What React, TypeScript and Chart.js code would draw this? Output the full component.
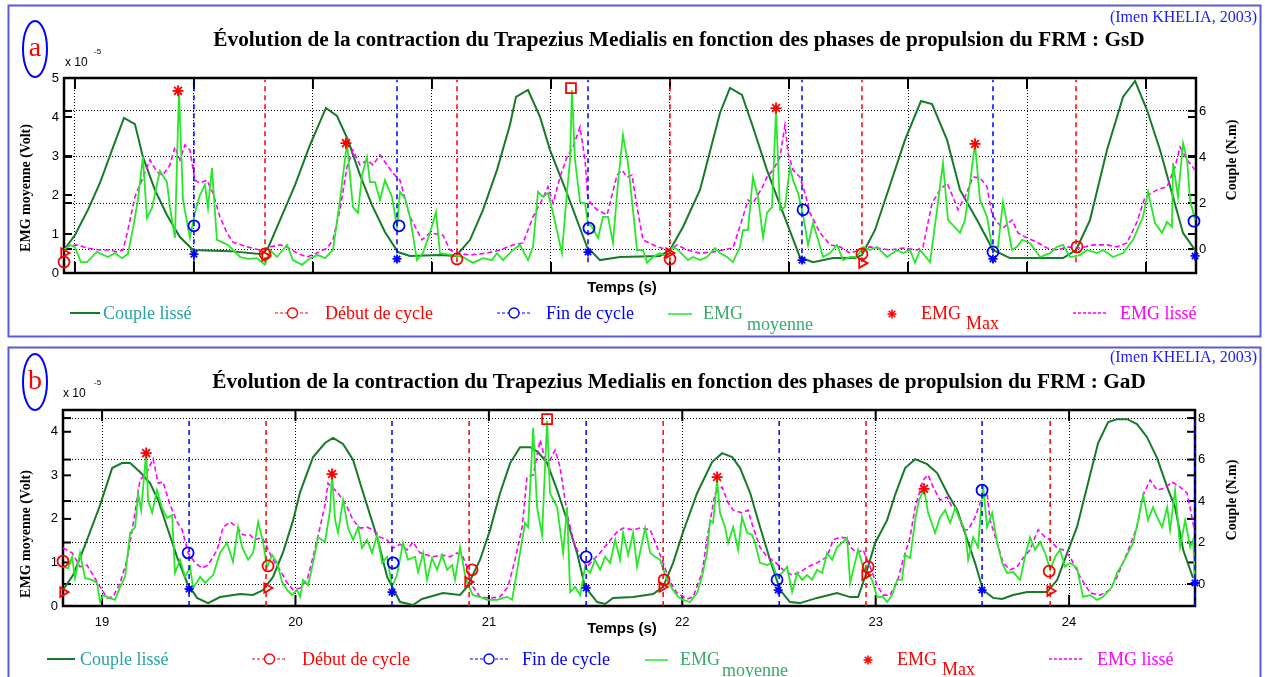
import React, { useEffect, useRef } from "react";
import { Chart, registerables } from "chart.js";
Chart.register(...registerables);

// ================= Panel a : GsD =================
const aXTicks = [0, 1, 2, 3, 4, 5, 6, 7, 8, 9];
const aYTicks = [0, 1, 2, 3, 4, 5];
const aY2Ticks = [0, 2, 4, 6];

const aCoupleT = [-0.092,0,0.109,0.210,0.311,0.412,0.504,0.571,0.672,0.773,0.882,0.992,1.303,1.571,1.622,1.723,1.849,1.975,2.109,2.202,2.294,2.395,2.496,2.605,2.714,2.815,3.067,3.202,3.319,3.429,3.546,3.655,3.706,3.807,3.908,3.992,4.134,4.303,4.412,4.580,4.916,5.000,5.109,5.252,5.420,5.504,5.605,5.697,5.815,5.950,6.092,6.202,6.370,6.555,6.613,6.723,6.849,6.975,7.109,7.202,7.328,7.437,7.580,7.714,7.857,8.303,8.412,8.529,8.672,8.807,8.908,9.008,9.118,9.311,9.412];
const aCoupleV = [-0.04,0.61,1.70,2.87,4.30,5.70,5.43,4.00,2.57,1.48,0.52,-0.04,-0.09,-0.22,0.04,1.26,2.78,4.52,6.13,5.78,4.74,3.22,1.91,0.74,-0.13,-0.30,-0.26,-0.30,0.39,1.70,3.43,5.39,6.61,6.91,5.74,4.30,2.43,0.09,-0.48,-0.35,-0.30,-0.04,0.96,2.57,5.91,7.00,6.70,5.30,3.43,1.57,-0.35,-0.57,-0.39,-0.39,-0.26,0.83,2.78,4.74,6.43,6.30,4.74,2.57,1.26,-0.04,-0.39,-0.39,-0.04,1.26,4.30,6.61,7.30,6.04,4.30,0.70,-0.04];

const aEmgT = [-0.092,-0.042,0,0.050,0.101,0.185,0.277,0.336,0.395,0.445,
0.487,0.529,0.571,0.605,0.647,0.714,0.773,0.798,0.840,0.874,
0.908,0.966,1.008,1.050,1.092,1.118,1.151,1.193,1.235,1.286,
1.328,1.387,1.454,1.529,1.597,1.639,1.697,1.782,1.832,1.908,
1.975,2.042,2.101,2.168,2.227,2.286,2.336,2.378,2.412,2.454,
2.479,2.521,2.563,2.605,2.664,2.706,2.731,2.773,2.815,2.874,
2.924,2.983,3.034,3.067,3.176,3.261,3.345,3.429,3.504,3.546,
3.597,3.681,3.739,3.807,3.849,3.891,3.933,3.975,4.017,4.092,
4.134,4.160,4.176,4.202,4.244,4.286,4.311,4.345,4.395,4.437,
4.479,4.521,4.563,4.605,4.647,4.689,4.723,4.773,4.807,4.857,
4.916,4.975,5.025,5.067,5.151,5.193,5.252,5.311,5.378,5.420,
5.479,5.529,5.588,5.613,5.655,5.697,5.739,5.782,5.815,5.857,
5.891,5.924,5.966,6.008,6.034,6.076,6.118,6.160,6.202,6.244,
6.286,6.345,6.403,6.454,6.513,6.571,6.622,6.681,6.739,6.824,
6.908,6.958,7.017,7.059,7.101,7.185,7.244,7.294,7.336,7.437,
7.479,7.521,7.563,7.605,7.664,7.706,7.756,7.798,7.832,7.874,
7.916,7.958,8.025,8.109,8.193,8.252,8.303,8.361,8.445,8.504,
8.588,8.639,8.723,8.807,8.891,8.975,9.017,9.076,9.134,9.176,
9.218,9.227,9.269,9.311,9.345,9.370,9.412];
const aEmgV = [0.59,0.72,0.67,0.28,0.28,0.54,0.41,0.51,0.38,0.49,
1.13,1.87,2.97,1.41,1.67,2.62,2.33,1.69,0.90,4.67,
1.87,0.90,1.54,2.00,2.26,1.67,2.69,0.85,0.79,0.72,
0.59,0.41,0.36,0.38,0.21,0.59,0.41,0.72,0.33,0.21,
0.38,0.46,0.38,0.59,1.87,3.33,1.69,1.54,2.51,2.97,
2.33,2.33,1.87,2.38,1.95,1.18,2.08,1.92,1.44,0.33,
0.51,1.03,1.56,0.51,0.46,0.41,0.26,0.38,0.33,0.51,
0.33,0.59,0.72,0.33,0.67,2.08,1.95,2.05,1.54,0.51,
2.05,2.90,4.69,2.90,1.82,1.79,1.28,1.18,0.90,1.44,
1.44,0.77,2.31,3.54,2.82,1.62,0.59,0.59,0.26,0.41,
0.51,0.41,0.67,0.59,0.33,0.41,0.33,0.41,0.64,0.51,
0.41,0.28,0.67,1.10,1.10,2.46,1.95,0.92,1.54,1.69,
4.18,1.62,1.69,2.72,2.38,2.05,1.49,0.72,1.28,0.85,
0.41,0.51,0.72,0.33,0.41,0.41,0.67,0.59,0.67,0.41,
0.59,0.51,0.59,0.26,0.59,0.28,1.62,2.82,1.36,1.03,
1.36,2.31,3.31,1.87,1.44,0.67,0.67,1.82,1.28,0.59,
0.67,0.85,0.77,0.41,0.51,0.67,0.72,0.41,0.46,0.59,
0.51,0.59,0.41,0.51,0.85,1.44,2.08,1.28,1.03,1.31,
1.18,2.82,1.95,3.33,2.90,1.87,1.36];

const aLisT = [-0.084,0.017,0.101,0.210,0.294,0.353,0.403,0.445,0.504,0.563,
0.630,0.689,0.739,0.798,0.840,0.882,0.924,0.966,1.008,1.050,
1.109,1.160,1.218,1.277,1.328,1.445,1.555,1.639,1.723,1.782,
1.866,1.950,2.034,2.118,2.168,2.227,2.286,2.336,2.395,2.454,
2.504,2.563,2.622,2.672,2.731,2.815,2.916,2.983,3.092,3.151,
3.210,3.319,3.462,3.571,3.681,3.765,3.849,3.933,3.975,4.017,
4.076,4.134,4.185,4.244,4.286,4.311,4.387,4.471,4.555,4.597,
4.639,4.681,4.723,4.773,4.891,5.000,5.059,5.143,5.252,5.361,
5.529,5.605,5.655,5.697,5.773,5.815,5.866,5.924,5.966,5.992,
6.034,6.092,6.134,6.176,6.261,6.345,6.429,6.513,6.681,6.849,
6.958,7.076,7.126,7.202,7.269,7.328,7.378,7.420,7.479,7.546,
7.605,7.664,7.706,7.756,7.798,7.874,7.924,8.000,8.084,8.168,
8.252,8.336,8.445,8.555,8.672,8.756,8.840,8.924,8.992,9.092,
9.176,9.244,9.286,9.345,9.412];
const aLisV = [0.67,0.72,0.64,0.59,0.59,0.54,0.59,1.10,1.95,2.38,
2.90,2.59,2.51,2.77,3.23,2.90,3.28,3.15,2.38,2.31,
2.38,2.05,1.44,1.03,0.79,0.67,0.59,0.67,0.72,0.67,
0.51,0.41,0.51,0.64,0.85,1.62,2.72,3.15,2.77,2.90,
2.77,3.03,2.77,2.56,2.38,1.44,0.85,1.03,0.97,0.59,
0.51,0.46,0.51,0.59,0.72,0.77,1.44,1.92,2.21,1.79,
2.46,2.97,3.23,3.74,2.90,1.87,1.62,1.49,2.51,2.64,
2.46,2.51,1.69,0.85,0.67,0.59,0.72,0.59,0.51,0.54,
0.64,1.36,1.87,1.79,2.18,2.46,2.64,2.97,3.79,3.08,
2.64,2.46,2.05,1.54,1.03,0.72,0.67,0.51,0.67,0.59,
0.64,0.59,0.67,1.79,2.13,2.31,1.95,1.62,1.95,2.46,
2.44,2.21,1.49,1.28,1.15,1.36,1.03,0.90,0.79,0.64,
0.59,0.67,0.64,0.72,0.72,0.67,0.77,1.31,1.95,2.13,
2.21,2.72,3.23,2.90,2.64];

const aDebutT = [1.597, 3.210, 5.000, 6.613, 8.412];
const aDebutCircT = [-0.092, 1.597, 3.210, 5.000, 6.613, 8.420];
const aDebutCircV = [0.28, 0.49, 0.36, 0.36, 0.49, 0.67];
const aTriT = [-0.092, 1.597, 4.992, 6.613];
const aTriC = [-0.17, -0.30, -0.17, -0.61];
const aFinT = [1.000, 2.706, 4.311, 6.109, 7.714];
const aFinCircT = [1.000, 2.723, 4.319, 6.118, 7.714, 9.403];
const aFinCircV = [1.21, 1.21, 1.15, 1.62, 0.54, 1.33];
const aFinStarT = [1.000, 2.706, 4.311, 6.109, 7.714, 9.412];
const aFinStarC = [-0.22, -0.43, -0.13, -0.48, -0.43, -0.30];
const aMaxT = [0.866, 2.277, 5.891, 7.563];
const aMaxV = [4.67, 3.33, 4.23, 3.31];
const aPeakT = [4.168];
const aPeakV = [4.74];

// ================= Panel b : GaD =================
const bXTicks = [19, 20, 21, 22, 23, 24];
const bYTicks = [0, 1, 2, 3, 4];
const bY2Ticks = [0, 2, 4, 6, 8];

const bCoupleT = [18.798,18.850,18.912,18.990,19.052,19.103,19.145,19.196,19.248,19.290,
19.336,19.388,19.440,19.491,19.548,19.610,19.714,19.781,19.832,19.884,
19.936,19.988,20.024,20.091,20.153,20.194,20.246,20.298,20.350,20.422,
20.474,20.541,20.608,20.654,20.763,20.851,20.887,20.954,21.006,21.058,
21.110,21.161,21.213,21.254,21.301,21.353,21.404,21.456,21.497,21.560,
21.601,21.642,21.746,21.849,21.901,21.952,22.004,22.077,22.154,22.206,
22.258,22.299,22.351,22.402,22.454,22.506,22.557,22.609,22.697,22.800,
22.868,22.909,22.945,22.997,23.059,23.100,23.152,23.204,23.266,23.318,
23.370,23.421,23.462,23.514,23.555,23.607,23.654,23.710,23.783,23.886,
23.938,23.990,24.041,24.098,24.150,24.202,24.248,24.300,24.351,24.403,
24.455,24.507,24.548,24.590,24.641];
const bCoupleV = [-0.29,0.43,1.88,3.81,5.59,5.83,5.83,5.40,4.87,4.05,
2.75,1.30,0.05,-0.67,-0.92,-0.63,-0.48,-0.53,-0.29,0.34,
1.54,3.08,4.43,6.12,6.80,7.04,6.75,5.98,4.39,2.26,
0.34,-0.87,-1.01,-0.72,-0.43,-0.53,-0.14,1.16,2.60,4.39,
5.83,6.60,6.60,6.36,5.83,4.53,3.08,1.49,-0.14,-0.87,
-0.96,-0.67,-0.63,-0.48,-0.14,1.01,2.51,4.39,5.88,6.31,
6.12,5.59,4.39,2.75,1.16,-0.29,-0.87,-0.92,-0.67,-0.43,
-0.63,-0.63,0.34,1.98,3.08,4.29,5.59,6.02,5.78,5.35,
4.39,3.57,2.46,1.01,-0.29,-0.67,-0.72,-0.53,-0.39,-0.39,
0.19,1.49,2.75,4.87,6.80,7.81,7.95,7.95,7.71,7.08,
6.07,4.67,3.71,1.64,0.29];

const bEmgT = [18.798,18.824,18.845,18.860,18.886,18.912,18.948,18.974,18.990,19.005,
19.041,19.067,19.093,19.119,19.145,19.171,19.186,19.202,19.228,19.238,
19.259,19.284,19.310,19.336,19.362,19.377,19.403,19.429,19.455,19.471,
19.507,19.533,19.574,19.610,19.646,19.677,19.703,19.724,19.755,19.781,
19.807,19.832,19.853,19.879,19.905,19.931,19.957,19.982,20.008,20.024,
20.039,20.065,20.091,20.117,20.153,20.179,20.189,20.205,20.220,20.246,
20.272,20.298,20.324,20.344,20.370,20.396,20.422,20.448,20.474,20.499,
20.525,20.556,20.582,20.618,20.634,20.660,20.680,20.706,20.732,20.758,
20.784,20.810,20.825,20.851,20.877,20.892,20.918,20.954,20.991,21.042,
21.094,21.120,21.161,21.187,21.203,21.229,21.249,21.275,21.301,21.316,
21.353,21.384,21.404,21.420,21.446,21.472,21.497,21.523,21.549,21.575,
21.601,21.627,21.653,21.678,21.694,21.720,21.746,21.766,21.792,21.808,
21.834,21.859,21.885,21.921,21.952,21.978,22.004,22.040,22.077,22.102,
22.128,22.144,22.159,22.180,22.195,22.221,22.237,22.263,22.289,22.309,
22.335,22.361,22.376,22.402,22.438,22.464,22.490,22.516,22.542,22.568,
22.594,22.619,22.645,22.671,22.697,22.723,22.749,22.775,22.800,22.826,
22.852,22.868,22.909,22.935,22.981,23.007,23.038,23.059,23.085,23.111,
23.136,23.152,23.178,23.204,23.224,23.250,23.271,23.307,23.333,23.359,
23.385,23.411,23.436,23.462,23.478,23.504,23.529,23.555,23.576,23.602,
23.628,23.654,23.679,23.710,23.747,23.772,23.798,23.824,23.850,23.876,
23.902,23.928,23.953,23.979,24.005,24.041,24.072,24.109,24.145,24.176,
24.222,24.248,24.279,24.331,24.357,24.383,24.408,24.434,24.455,24.481,
24.507,24.522,24.548,24.574,24.600,24.626,24.641,24.651];
const bEmgV = [0.90,0.87,1.13,0.64,1.22,0.64,0.60,0.53,0.09,0.25,
0.18,0.14,0.44,0.67,1.68,1.81,2.59,2.20,3.51,2.43,
2.14,2.66,2.25,2.02,2.09,0.76,1.06,0.67,0.90,0.41,
0.67,0.53,0.71,1.22,1.45,1.01,1.81,1.35,1.06,1.22,
1.93,1.47,0.90,1.17,0.99,0.55,0.37,0.25,0.37,0.21,
0.60,0.48,0.99,1.58,1.47,2.20,3.03,1.97,1.68,2.43,
1.79,1.52,1.81,1.33,1.52,1.22,1.63,0.99,1.13,0.44,
0.71,1.45,1.06,1.13,0.78,1.22,0.60,1.10,0.83,1.17,
0.83,0.94,0.60,1.35,0.71,0.48,0.25,0.21,0.14,0.14,
0.21,0.14,1.22,1.91,1.81,4.09,2.27,1.63,4.25,2.59,
2.27,1.22,2.27,0.32,0.44,0.25,0.90,0.76,1.06,0.83,
1.13,0.99,1.52,1.06,1.68,1.17,1.68,0.90,1.45,1.79,
1.22,1.13,1.06,0.60,0.37,0.21,0.14,0.09,0.30,0.67,
1.22,1.97,1.91,2.89,2.14,1.81,1.45,1.81,1.29,2.04,
1.68,1.63,1.45,0.99,0.94,0.99,0.67,0.76,0.90,0.32,
0.76,0.60,0.71,0.60,0.83,0.76,1.22,1.06,1.35,1.45,
1.56,0.53,1.29,0.90,0.60,0.21,0.21,0.09,0.25,0.60,
0.60,1.17,1.10,1.97,2.43,2.69,2.14,1.68,2.04,2.20,
1.91,2.25,1.97,1.75,1.06,1.58,1.35,2.78,1.81,2.14,
1.45,0.99,0.76,0.78,0.60,1.13,1.58,1.29,1.47,1.22,
0.83,1.13,1.29,0.90,0.99,0.87,0.21,0.25,0.14,0.21,
0.44,0.76,0.99,1.45,1.97,2.55,1.97,2.27,2.04,1.81,
2.27,1.75,2.66,1.35,1.97,1.35,1.52,0.60];

const bLisT = [18.798,18.845,18.886,18.922,18.953,18.990,19.026,19.057,19.093,19.129,
19.160,19.196,19.233,19.264,19.290,19.315,19.352,19.388,19.414,19.445,
19.481,19.517,19.548,19.595,19.626,19.662,19.698,19.729,19.765,19.791,
19.827,19.853,19.884,19.920,19.957,19.988,20.024,20.060,20.091,20.127,
20.153,20.168,20.194,20.220,20.246,20.267,20.298,20.334,20.370,20.401,
20.437,20.474,20.505,20.541,20.577,20.608,20.644,20.680,20.711,20.758,
20.799,20.835,20.866,20.892,20.918,20.954,21.006,21.058,21.099,21.135,
21.172,21.197,21.229,21.265,21.291,21.316,21.342,21.368,21.404,21.435,
21.472,21.508,21.539,21.575,21.616,21.663,21.694,21.746,21.782,21.834,
21.870,21.901,21.937,21.973,22.025,22.056,22.102,22.133,22.170,22.206,
22.237,22.263,22.309,22.340,22.366,22.402,22.438,22.480,22.521,22.568,
22.609,22.650,22.697,22.749,22.780,22.816,22.852,22.868,22.904,22.935,
22.971,23.007,23.038,23.074,23.111,23.142,23.178,23.204,23.245,23.271,
23.297,23.333,23.369,23.395,23.421,23.452,23.478,23.514,23.540,23.576,
23.591,23.628,23.659,23.695,23.731,23.762,23.798,23.840,23.876,23.902,
23.938,23.969,24.005,24.057,24.109,24.160,24.212,24.248,24.300,24.351,
24.383,24.419,24.455,24.496,24.532,24.574,24.610,24.651];
const bLisV = [1.33,1.22,0.90,0.94,0.71,0.44,0.18,0.21,0.53,1.06,
1.86,2.89,3.08,3.38,2.82,2.85,2.32,1.93,1.75,1.22,
0.99,0.87,0.94,1.29,1.81,1.93,1.81,1.63,1.63,1.52,
1.58,1.35,1.06,0.83,0.53,0.37,0.41,0.60,1.13,1.81,
2.32,2.82,2.71,2.59,2.43,2.27,1.97,1.79,1.81,1.75,
1.58,1.52,1.33,1.42,1.29,1.47,1.22,1.17,1.13,1.17,
1.13,1.22,1.13,0.83,0.44,0.21,0.18,0.21,0.44,1.06,
1.81,2.96,3.01,3.81,3.35,3.35,3.58,3.19,2.14,1.52,
1.13,0.90,1.06,1.22,1.45,1.70,1.79,1.75,1.79,1.75,
1.35,0.99,0.55,0.30,0.16,0.21,0.76,1.68,2.59,2.73,
2.37,2.20,2.14,2.20,1.81,1.35,1.13,1.01,0.83,0.71,
0.78,0.90,0.99,1.13,1.52,1.58,1.56,1.35,1.22,1.29,
0.90,0.48,0.25,0.25,0.55,1.06,1.58,2.27,2.89,3.01,
2.73,2.43,2.50,2.27,2.20,1.75,1.75,2.04,2.37,2.59,
1.97,1.45,0.99,0.83,0.90,1.10,1.29,1.75,1.58,1.52,
1.33,1.29,1.13,0.67,0.30,0.25,0.37,0.67,1.22,1.81,
2.55,2.89,2.66,2.71,2.85,2.73,2.59,1.68];

const bDebutT = [19.848, 20.898, 21.901, 22.950, 23.902];
const bDebutCircT = [18.798, 19.858, 20.913, 21.906, 22.961, 23.897];
const bDebutCircV = [1.03, 0.92, 0.83, 0.60, 0.90, 0.80];
const bTriT = [18.798, 19.853, 20.892, 21.896, 22.945, 23.902];
const bTriC = [-0.39, -0.19, 0.10, -0.14, 0.43, -0.34];
const bFinT = [19.450, 20.499, 21.503, 22.501, 23.550, 24.651];
const bFinCircT = [19.445, 20.505, 21.503, 22.490, 23.550];
const bFinCircV = [1.22, 0.99, 1.13, 0.60, 2.66];
const bFinStarT = [19.450, 20.499, 21.503, 22.496, 23.550, 24.651];
const bFinStarC = [-0.24, -0.39, -0.19, -0.29, -0.29, 0.05];
const bMaxT = [19.228, 20.189, 22.180, 23.250];
const bMaxV = [3.51, 3.03, 2.96, 2.69];
const bPeakT = [21.301];
const bPeakV = [4.29];

// ================= styling =================
const RED = "#ff0000";
const BLUE = "#0000ff";
const MAGENTA = "#ff00ff";
const GREEN = "#27e827";
const DKGREEN = "#167a2a";
const FRAME = "#5a5ad8";
const SERIF = '"Liberation Serif", "Times New Roman", serif';
const SANS = '"Liberation Sans", Arial, sans-serif';

const P = (xs: number[], ys: number[]) => xs.map((x, i) => ({ x, y: ys[i] }));
const V = (xs: number[], lo: number, hi: number) =>
  xs.flatMap((x) => [{ x, y: lo }, { x, y: hi }, { x, y: null as any }]);

const frameTicks = {
  id: "frameTicks",
  beforeDatasetsDraw(chart: any) {
    const { ctx, chartArea: a, scales } = chart;
    ctx.save();
    ctx.strokeStyle = "#000";
    ctx.setLineDash([]);
    ctx.lineWidth = 2;
    const seg = (x1: number, y1: number, x2: number, y2: number) => {
      ctx.beginPath();
      ctx.moveTo(x1, y1);
      ctx.lineTo(x2, y2);
      ctx.stroke();
    };
    for (const t of scales.x.ticks) {
      const x = scales.x.getPixelForValue(t.value);
      seg(x, a.bottom, x, a.bottom - 11);
      seg(x, a.top, x, a.top + 11);
    }
    for (const s of [scales.y, scales.y2]) {
      for (const t of s.ticks) {
        const y = s.getPixelForValue(t.value);
        seg(a.left, y, a.left + 8, y);
        seg(a.right, y, a.right - 8, y);
      }
    }
    ctx.lineWidth = 2.5;
    ctx.strokeRect(a.left, a.top, a.right - a.left, a.bottom - a.top);
    ctx.restore();
  },
};

function buildConfig(c: any) {
  const marker = (data: any, axis: string, style: string, color: string, r: number, rot = 0, order = 0) => ({
    data,
    yAxisID: axis,
    showLine: false,
    pointStyle: style,
    pointRadius: r,
    pointRotation: rot,
    pointBorderColor: color,
    pointBackgroundColor: "rgba(0,0,0,0)",
    pointBorderWidth: 1.8,
    borderColor: color,
    clip: false,
    order,
  });
  const datasets: any[] = [
    marker(P(c.maxT, c.maxV), "y", "star", RED, 5.5),
    marker(P(c.peakT, c.peakV), "y", "rect", RED, 7),
    marker(P(c.debCT, c.debCV), "y", "circle", RED, 5.5),
    marker(P(c.finCT, c.finCV), "y", "circle", BLUE, 5.5),
    marker(P(c.finST, c.finSC), "y2", "star", BLUE, 4.5),
    marker(P(c.triT, c.triC), "y2", "triangle", RED, 5.5, 90),
    { data: V(c.debT, c.vlo, c.vhi), yAxisID: "y2", borderColor: RED, borderWidth: 1.5, borderDash: [5, 4], pointRadius: 0, clip: false, order: 2 },
    { data: V(c.finT, c.vlo, c.vhi), yAxisID: "y2", borderColor: BLUE, borderWidth: 1.5, borderDash: [5, 4], pointRadius: 0, clip: false, order: 2 },
    { data: P(c.emgT, c.emgV), yAxisID: "y", borderColor: GREEN, borderWidth: 1.8, pointRadius: 0, clip: false, order: 3 },
    { data: P(c.lisT, c.lisV), yAxisID: "y", borderColor: MAGENTA, borderWidth: 1.6, borderDash: [5, 3], pointRadius: 0, clip: false, order: 4 },
    { data: P(c.coupleT, c.coupleV), yAxisID: "y2", borderColor: DKGREEN, borderWidth: 2, pointRadius: 0, clip: false, order: 5 },
  ];
  const tickFont = { family: SANS, size: 13 };
  return {
    type: "line",
    data: { datasets },
    plugins: [frameTicks],
    options: {
      animation: false,
      responsive: false,
      maintainAspectRatio: false,
      devicePixelRatio: 1,
      events: [],
      layout: { padding: c.padding },
      elements: { line: { tension: 0 }, point: { radius: 0 } },
      plugins: { legend: { display: false }, tooltip: { enabled: false } },
      scales: {
        x: {
          type: "linear",
          min: c.xMin,
          max: c.xMax,
          afterBuildTicks: (s: any) => { s.ticks = c.xTicks.map((v: number) => ({ value: v })); },
          afterFit: (s: any) => { s.height = 30; },
          grid: { color: "#000", lineWidth: 1, drawTicks: false },
          border: { display: false, dash: [1, 2] },
          ticks: { display: c.showX, color: "#000", font: tickFont, padding: 9, maxRotation: 0, autoSkip: false, callback: (v: any) => String(v) },
        },
        y: {
          type: "linear",
          position: "left",
          min: c.yMin,
          max: c.yMax,
          afterBuildTicks: (s: any) => { s.ticks = c.yTicks.map((v: number) => ({ value: v })); },
          afterFit: (s: any) => { s.width = 50; },
          grid: { display: false, drawTicks: false },
          border: { display: false },
          ticks: { color: "#000", font: tickFont, padding: 5, callback: (v: any) => String(v) },
        },
        y2: {
          type: "linear",
          position: "right",
          min: c.y2Min,
          max: c.y2Max,
          afterBuildTicks: (s: any) => { s.ticks = c.y2Ticks.map((v: number) => ({ value: v })); },
          afterFit: (s: any) => { s.width = 50; },
          grid: { color: "#000", lineWidth: 1, drawTicks: false },
          border: { display: false, dash: [1, 2] },
          ticks: { color: "#000", font: tickFont, padding: 3, callback: (v: any) => String(v) },
        },
      },
    },
  };
}

const cfgA = {
  top: 0, h: 340,
  padding: { left: 14, right: 19, top: 78, bottom: 37 },
  xMin: -0.092, xMax: 9.42, xTicks: aXTicks, showX: false,
  yMin: 0, yMax: 5, yTicks: aYTicks,
  y2Min: -1.04, y2Max: 7.43, y2Ticks: aY2Ticks,
  coupleT: aCoupleT, coupleV: aCoupleV, emgT: aEmgT, emgV: aEmgV, lisT: aLisT, lisV: aLisV,
  debT: aDebutT, debCT: aDebutCircT, debCV: aDebutCircV, triT: aTriT, triC: aTriC,
  finT: aFinT, finCT: aFinCircT, finCV: aFinCircV, finST: aFinStarT, finSC: aFinStarC,
  maxT: aMaxT, maxV: aMaxV, peakT: aPeakT, peakV: aPeakV,
  vlo: -0.57, vhi: 7.35,
};

const cfgB = {
  top: 340, h: 337,
  padding: { left: 13, right: 20, top: 70, bottom: 41 },
  xMin: 18.798, xMax: 24.651, xTicks: bXTicks, showX: true,
  yMin: 0, yMax: 4.5, yTicks: bYTicks,
  y2Min: -1.06, y2Max: 8.39, y2Ticks: bY2Ticks,
  coupleT: bCoupleT, coupleV: bCoupleV, emgT: bEmgT, emgV: bEmgV, lisT: bLisT, lisV: bLisV,
  debT: bDebutT, debCT: bDebutCircT, debCV: bDebutCircV, triT: bTriT, triC: bTriC,
  finT: bFinT, finCT: bFinCircT, finCV: bFinCircV, finST: bFinStarT, finSC: bFinStarC,
  maxT: bMaxT, maxV: bMaxV, peakT: bPeakT, peakV: bPeakV,
  vlo: -1.06, vhi: 7.95,
};

function PanelChart({ cfg }: { cfg: any }) {
  const ref = useRef<HTMLCanvasElement>(null);
  useEffect(() => {
    const chart = new Chart(ref.current as HTMLCanvasElement, buildConfig(cfg) as any);
    return () => chart.destroy();
  }, [cfg]);
  return (
    <canvas
      ref={ref}
      width={1265}
      height={cfg.h}
      style={{ position: "absolute", left: 0, top: cfg.top, width: 1265, height: cfg.h }}
    />
  );
}

function T(props: any) {
  const { x, y, size = 18, color = "#000", bold = false, family = SERIF, anchor = "left", rot = false, children } = props;
  let transform = anchor === "center" ? "translate(-50%,-50%)" : anchor === "right" ? "translate(-100%,-50%)" : "translateY(-50%)";
  if (rot) transform = "translate(-50%,-50%) rotate(-90deg)";
  return (
    <span
      style={{
        position: "absolute", left: x, top: y, fontSize: size, color, fontFamily: family,
        fontWeight: bold ? "bold" : "normal", lineHeight: 1, whiteSpace: "nowrap", transform,
      }}
    >
      {children}
    </span>
  );
}

function Star({ x, y, r, color }: any) {
  const d = r * 0.72;
  return (
    <g stroke={color} strokeWidth={1.6}>
      <line x1={x - r} y1={y} x2={x + r} y2={y} />
      <line x1={x} y1={y - r} x2={x} y2={y + r} />
      <line x1={x - d} y1={y - d} x2={x + d} y2={y + d} />
      <line x1={x - d} y1={y + d} x2={x + d} y2={y - d} />
    </g>
  );
}

function Decor({ leg }: any) {
  return (
    <g>
      <line x1={leg.c[0]} y1={leg.y} x2={leg.c[1]} y2={leg.y} stroke={DKGREEN} strokeWidth={2} />
      <line x1={leg.d[0]} y1={leg.y} x2={leg.d[1]} y2={leg.y} stroke={RED} strokeWidth={1.2} strokeDasharray="3 2" />
      <circle cx={(leg.d[0] + leg.d[1]) / 2} cy={leg.y} r={5} fill="#fff" stroke={RED} strokeWidth={1.4} />
      <line x1={leg.f[0]} y1={leg.y} x2={leg.f[1]} y2={leg.y} stroke={BLUE} strokeWidth={1.2} strokeDasharray="3 2" />
      <circle cx={(leg.f[0] + leg.f[1]) / 2} cy={leg.y} r={5} fill="#fff" stroke={BLUE} strokeWidth={1.4} />
      <line x1={leg.e[0]} y1={leg.y + 1} x2={leg.e[1]} y2={leg.y + 1} stroke={GREEN} strokeWidth={1.5} />
      <Star x={leg.s} y={leg.y + 1} r={4.5} color={RED} />
      <line x1={leg.m[0]} y1={leg.y} x2={leg.m[1]} y2={leg.y} stroke={MAGENTA} strokeWidth={1.3} strokeDasharray="3 2" />
    </g>
  );
}

function Texts({ gtag, letter, leg }: any) {
  const ly = leg.y;
  return (
    <>
      <T x={1257} y={leg.authorY} size={16} color="#1a1aff" anchor="right">(Imen KHELIA, 2003)</T>
      <T x={679} y={leg.titleY} size={21.3} bold anchor="center">
        Évolution de la contraction du Trapezius Medialis en fonction des phases de propulsion du FRM : {gtag}
      </T>
      <T x={35} y={leg.letterY} size={28} color={RED} anchor="center">{letter}</T>
      <T x={leg.xten} y={leg.xtenY} size={12} family={SANS}>x 10</T>
      <T x={94} y={leg.xtenY - 10} size={8} family={SANS}>-5</T>
      <T x={26} y={leg.ylab} size={14} bold rot>EMG moyenne (Volt)</T>
      <T x={1232} y={leg.y2lab} size={14} bold rot>Couple (N.m)</T>
      <T x={622} y={leg.temps} size={15} bold family={SANS} anchor="center">Temps (s)</T>
      <T x={leg.tc} y={ly} color="#26a4a4">Couple lissé</T>
      <T x={leg.td} y={ly} color={RED}>Début de cycle</T>
      <T x={leg.tf} y={ly} color={BLUE}>Fin de cycle</T>
      <T x={leg.te} y={ly} color="#3aa86b">EMG</T>
      <T x={leg.te2} y={ly + 11} color="#3aa86b">moyenne</T>
      <T x={leg.tx} y={ly} color={RED}>EMG</T>
      <T x={leg.tx2} y={ly + 10} color={RED}>Max</T>
      <T x={leg.tl} y={ly} color={MAGENTA}>EMG lissé</T>
    </>
  );
}

const legA = {
  y: 313, c: [70, 100], d: [275, 310], f: [497, 531], e: [668, 692], s: 892, m: [1073, 1106],
  tc: 103, td: 325, tf: 546, te: 703, te2: 747, tx: 921, tx2: 966, tl: 1120,
  authorY: 17, titleY: 40, letterY: 47, xten: 65, xtenY: 62, ylab: 188, y2lab: 160, temps: 286,
};
const legB = {
  y: 659, c: [47, 75], d: [252, 287], f: [470, 508], e: [645, 668], s: 868, m: [1049, 1083],
  tc: 80, td: 302, tf: 522, te: 680, te2: 722, tx: 897, tx2: 942, tl: 1097,
  authorY: 357, titleY: 382, letterY: 380, xten: 63, xtenY: 393, ylab: 534, y2lab: 500, temps: 627,
};

export default function App() {
  return (
    <div style={{ position: "absolute", left: 0, top: 0, width: 1265, height: 677, overflow: "hidden", background: "#fff" }}>
      <PanelChart cfg={cfgA} />
      <PanelChart cfg={cfgB} />
      <svg width={1265} height={677} style={{ position: "absolute", left: 0, top: 0, pointerEvents: "none" }}>
        <rect x={8.5} y={5.5} width={1252} height={331} fill="none" stroke={FRAME} strokeWidth={2} />
        <rect x={8.5} y={347.5} width={1252} height={340} fill="none" stroke={FRAME} strokeWidth={2} />
        <ellipse cx={35} cy={49} rx={12} ry={28} fill="none" stroke={BLUE} strokeWidth={2} />
        <ellipse cx={35} cy={382} rx={12} ry={28} fill="none" stroke={BLUE} strokeWidth={2} />
        <Decor leg={legA} />
        <Decor leg={legB} />
      </svg>
      <Texts gtag="GsD" letter="a" leg={legA} />
      <Texts gtag="GaD" letter="b" leg={legB} />
    </div>
  );
}
